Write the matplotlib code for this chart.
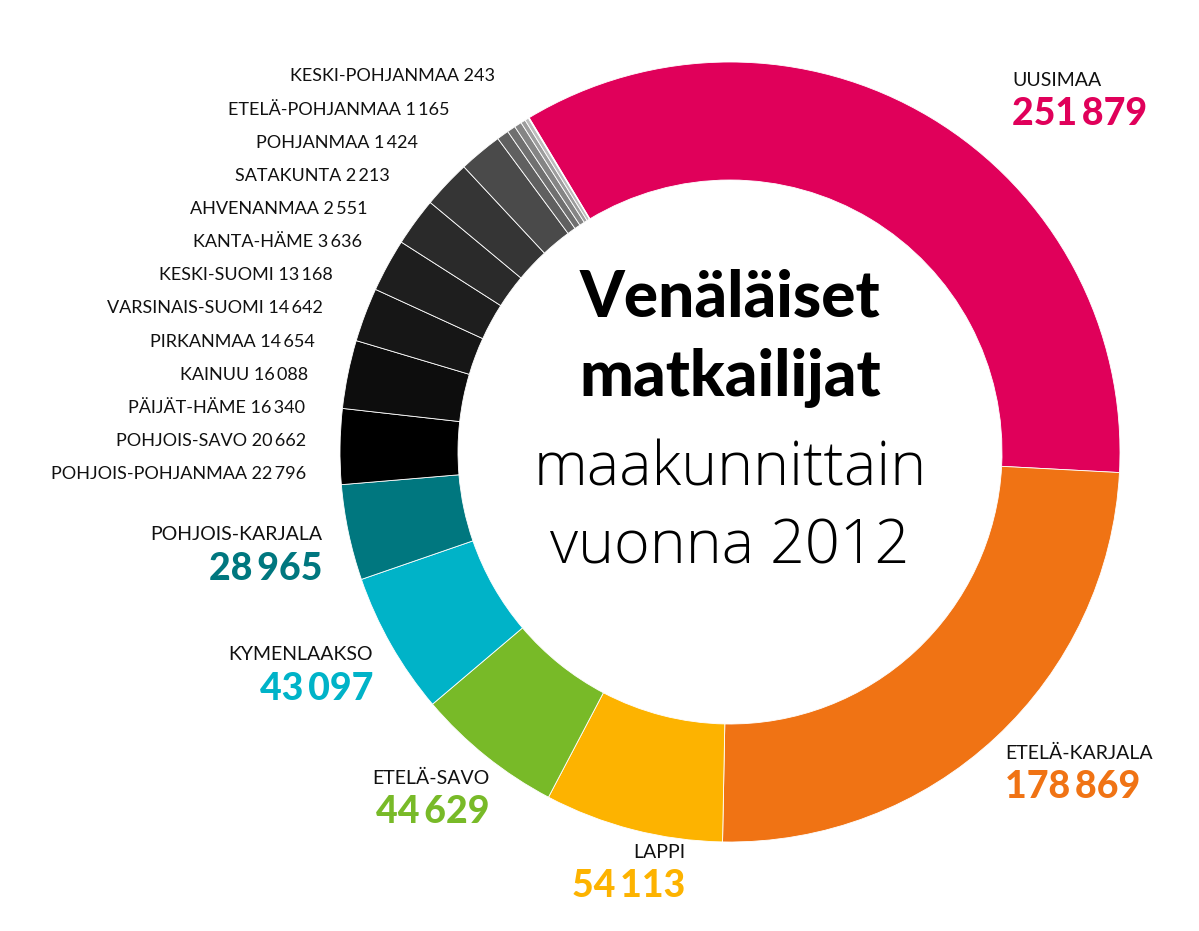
import matplotlib
matplotlib.use("Agg")
import matplotlib.pyplot as plt

regions = ["UUSIMAA","ETELÄ-KARJALA","LAPPI","ETELÄ-SAVO","KYMENLAAKSO","POHJOIS-KARJALA",
           "POHJOIS-POHJANMAA","POHJOIS-SAVO","PÄIJÄT-HÄME","KAINUU","PIRKANMAA","VARSINAIS-SUOMI",
           "KESKI-SUOMI","KANTA-HÄME","AHVENANMAA","SATAKUNTA","POHJANMAA","ETELÄ-POHJANMAA","KESKI-POHJANMAA"]
values = [251879,178869,54113,44629,43097,28965,22796,20662,16340,16088,14654,14642,13168,3636,2551,2213,1424,1165,243]
colors = ["#E0005A","#F07314","#FDB300","#78BA28","#00B3C8","#00777F",
          "#000000","#0d0d0d","#161616","#1e1e1e","#2a2a2a","#353535","#4a4a4a","#606060",
          "#707070","#858585","#9d9d9d","#bdbdbd","#d6d6d6"]

def fmt(v):
    return f"{v:,}".replace(",", "\u2009")

fig = plt.figure(figsize=(11.99, 9.31), dpi=100)
ax = fig.add_axes([0, 0, 1, 1])

R = 390; W = 118
# y axis is inverted below, so angles are mirrored: start -121 counterclockwise in data
ax.pie(values, colors=colors, startangle=-121, counterclock=True, center=(730, 452),
       radius=R, wedgeprops=dict(width=W, edgecolor="white", linewidth=0.6), frame=True)
ax.set_xlim(0, 1199); ax.set_ylim(931, 0); ax.axis("off")
ax.set_aspect("auto")

FONT = "Lato"
small = dict(fontsize=13, family=FONT, color="#111111", va="center")
small_pos = {"KESKI-POHJANMAA":(495,76),"ETELÄ-POHJANMAA":(450,110),"POHJANMAA":(418,143),
             "SATAKUNTA":(390,176),"AHVENANMAA":(368,209),"KANTA-HÄME":(362,242),
             "KESKI-SUOMI":(333,275),"VARSINAIS-SUOMI":(323,308),"PIRKANMAA":(315,342),
             "KAINUU":(308,375),"PÄIJÄT-HÄME":(305,408),"POHJOIS-SAVO":(306,441),
             "POHJOIS-POHJANMAA":(306,474)}
for name, v in zip(regions, values):
    if name in small_pos:
        x, y = small_pos[name]
        ax.text(x, y, f"{name} {fmt(v)}", ha="right", **small)

big_pos = {"UUSIMAA":(1012,80,"left"),"ETELÄ-KARJALA":(1005,753,"left"),
           "LAPPI":(685,852,"right"),"ETELÄ-SAVO":(490,778,"right"),
           "KYMENLAAKSO":(373,655,"right"),"POHJOIS-KARJALA":(322,535,"right")}
for name, v, c in zip(regions, values, colors):
    if name in big_pos:
        x, y, ha = big_pos[name]
        ax.text(x, y, name, ha=ha, fontsize=14, family=FONT, color="#111111", va="center")
        ax.text(x, y + 34, fmt(v), ha=ha, fontsize=27, family=FONT, fontweight="black",
                color=c, va="center")

ax.text(730, 298, "Venäläiset", ha="center", va="center", fontsize=46, family=FONT,
        fontweight="black", color="black")
ax.text(730, 378, "matkailijat", ha="center", va="center", fontsize=46, family=FONT,
        fontweight="black", color="black")
ax.text(730, 470, "maakunnittain", ha="center", va="center", fontsize=44, family="Open Sans",
        fontweight="light", color="black")
ax.text(730, 548, "vuonna 2012", ha="center", va="center", fontsize=44, family="Open Sans",
        fontweight="light", color="black")

fig.savefig("out.png", dpi=100)
